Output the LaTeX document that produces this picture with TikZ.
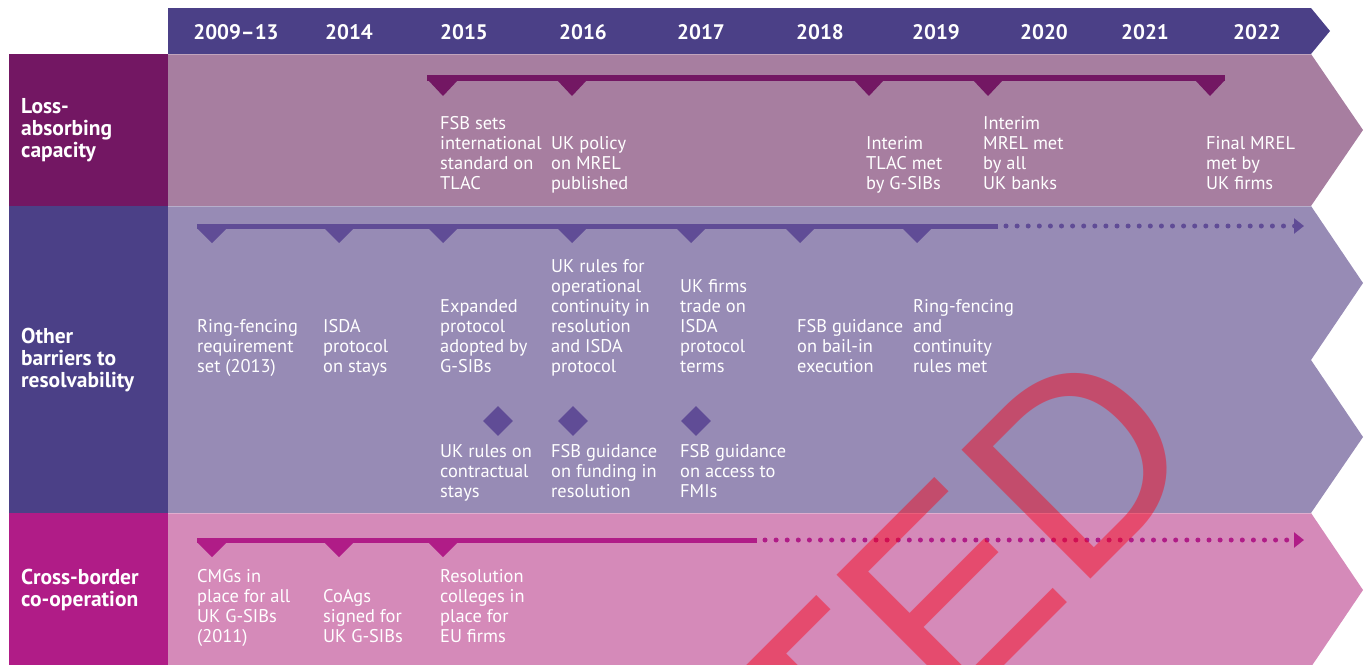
\documentclass[tikz,border=0pt]{standalone}
\usepackage{fontspec}
\setmainfont{PT Sans}
\newfontfamily\stampfont{Liberation Sans}
\usetikzlibrary{shapes.geometric, arrows.meta, positioning}

\definecolor{headc}{RGB}{75,64,135}
\definecolor{lossc}{RGB}{115,23,99}
\definecolor{lossbg}{RGB}{167,126,160}
\definecolor{othc}{RGB}{75,64,135}
\definecolor{othbg}{RGB}{151,139,181}
\definecolor{othbar}{RGB}{96,76,150}
\definecolor{crossc}{RGB}{176,28,135}
\definecolor{crossbg}{RGB}{213,138,185}
\definecolor{stampc}{RGB}{250,0,20}

\begin{document}
\begin{tikzpicture}[
    x=1pt, y=-1pt,
    year/.style={text=white, font=\fontsize{21}{21}\selectfont\bfseries},
    rowlabel/.style={text=white, font=\fontsize{21.5}{22}\selectfont\bfseries, align=left, anchor=west, inner sep=0pt},
    event/.style={text=white, font=\fontsize{18.4}{20}\selectfont, align=left, anchor=south west, inner sep=0pt, text depth=0pt},
    bar/.style={line width=5pt},
    dotline/.style={line width=5pt, line cap=round, dash pattern=on 0pt off 11.1pt, -{Triangle[length=10pt, width=15pt]}},
    gem/.style={diamond, fill=othbar, minimum width=30pt, minimum height=30pt, inner sep=0pt},
    stamp/.style={rotate=45, anchor=base east, inner sep=0pt, text=stampc, text opacity=0.45, font=\stampfont\fontsize{265}{265}\selectfont}
]
\useasboundingbox (0,0) rectangle (1367,664);

% Bands
\fill[headc] (168,8) -- (1311,8) -- (1330,31) -- (1311,54) -- (168,54) -- cycle;
\fill[lossbg] (168,54) -- (1311,54) -- (1363,130) -- (1311,206) -- (168,206) -- cycle;
\fill[othbg] (168,206) -- (1311,206) -- (1363,283) -- (1311,360) -- (1363,437) -- (1311,513) -- (168,513) -- cycle;
\fill[crossbg] (168,513) -- (1311,513) -- (1363,590) -- (1311,667) -- (168,667) -- cycle;
\fill[lossc] (9,54) rectangle (168,206);
\fill[othc] (9,206) rectangle (168,513);
\fill[crossc] (9,513) rectangle (168,667);
\foreach \y in {54,206,513}
  \draw[white, opacity=0.3, line width=1pt] (168,\y) -- (1311,\y);

% Years
\foreach \yr/\x in {2009--13/236, 2014/349, 2015/464, 2016/583, 2017/701, 2018/820, 2019/936, 2020/1044, 2021/1145, 2022/1257}
  \node[year] (yr\x) at (\x,32) {\yr};

% Row labels
\node[rowlabel] (loss) at (21,130) {Loss-\\absorbing\\capacity};
\node[rowlabel] (other) at (21,360) {Other\\barriers to\\resolvability};
\node[rowlabel] (cross) at (21,590) {Cross-border\\co-operation};

% Timelines
\coordinate (lossstart) at (427,78);
\coordinate (lossend) at (1225,78);
\draw[lossc, line width=6pt] (lossstart) -- (lossend);
\foreach \x in {443,572,869,988,1210}
  \fill[lossc] (\x-15,80) -- (\x+15,80) -- (\x,96) -- cycle;

\coordinate (othstart) at (197,226);
\coordinate (othsolid) at (998,226);
\coordinate (othfade) at (1006,226);
\coordinate (othend) at (1304,226);
\draw[othbar, bar] (othstart) -- (othsolid);
\draw[othbar, dotline] (othfade) -- (othend);
\foreach \x in {212,339,443,572,691,800,917}
  \fill[othbar] (\x-15,228) -- (\x+15,228) -- (\x,243) -- cycle;

\coordinate (crossstart) at (197,540);
\coordinate (crosssolid) at (757,540);
\coordinate (crossfade) at (765,540);
\coordinate (crossend) at (1304,540);
\draw[crossc, bar] (crossstart) -- (crosssolid);
\draw[crossc, dotline] (crossfade) -- (crossend);
\foreach \x in {212,339,443}
  \fill[crossc] (\x-15,542) -- (\x+15,542) -- (\x,557) -- cycle;

% Diamonds
\node[gem] (g15) at (498,421) {};
\node[gem] (g16) at (573,421) {};
\node[gem] (g17) at (696,421) {};

% Loss-absorbing capacity
\node[event] (tlac) at (440,190) {FSB sets\\international\\standard on\\TLAC};
\node[event] (mrel) at (551,190) {UK policy\\on MREL\\published};
\node[event] (itlac) at (866,190) {Interim\\TLAC met\\by G-SIBs};
\node[event] (imrel) at (983,190) {Interim\\MREL met\\by all\\UK banks};
\node[event] (fmrel) at (1206,190) {Final MREL\\met by\\UK firms};

% Other barriers
\node[event] (ringset) at (197,373) {Ring-fencing\\requirement\\set (2013)};
\node[event] (isda) at (323,373) {ISDA\\protocol\\on stays};
\node[event] (expand) at (440,373) {Expanded\\protocol\\adopted by\\G-SIBs};
\node[event] (opcont) at (551,373) {UK rules for\\operational\\continuity in\\resolution\\and ISDA\\protocol};
\node[event] (trade) at (680,373) {UK firms\\trade on\\ISDA\\protocol\\terms};
\node[event] (bailin) at (797,373) {FSB guidance\\on bail-in\\execution};
\node[event] (ringmet) at (913,373) {Ring-fencing\\and\\continuity\\rules met};
\node[event] (stays) at (440,498) {UK rules on\\contractual\\stays};
\node[event] (funding) at (551,498) {FSB guidance\\on funding in\\resolution};
\node[event] (fmis) at (680,498) {FSB guidance\\on access to\\FMIs};

% Cross-border
\node[event] (cmgs) at (197,643) {CMGs in\\place for all\\UK G-SIBs\\(2011)};
\node[event] (coags) at (323,643) {CoAgs\\signed for\\UK G-SIBs};
\node[event] (colleges) at (440,643) {Resolution\\colleges in\\place for\\EU firms};

% Stamp
\begin{scope}
\clip (0,0) rectangle (1367,664);
\node[stamp] (mark) at (1210.5,459.5) {UPDATED};
\end{scope}

\end{tikzpicture}
\end{document}
